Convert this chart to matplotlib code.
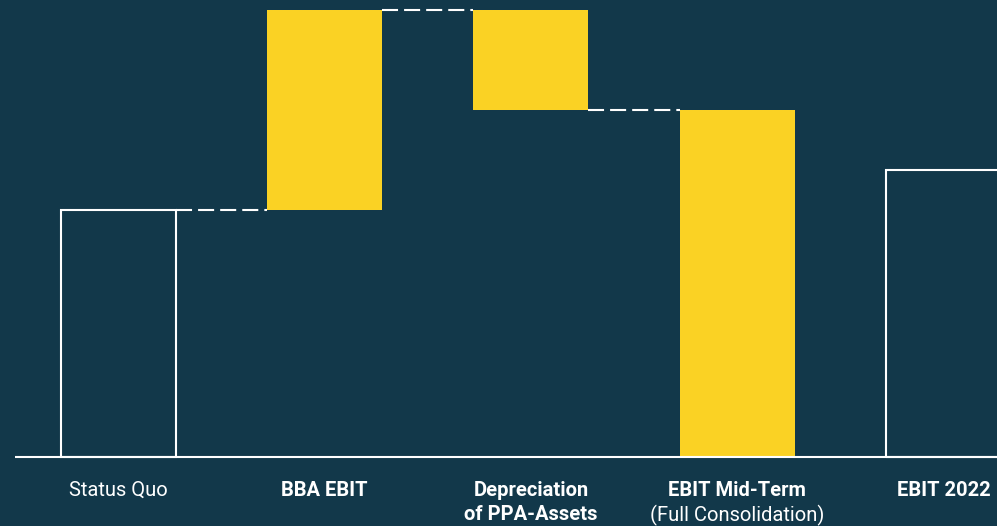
import matplotlib
matplotlib.use("Agg")
import matplotlib.pyplot as plt

categories = ["Status Quo", "BBA EBIT", "Depreciation\nof PPA-Assets", "EBIT Mid-Term", "EBIT 2022"]
sublabels = ["", "", "", "(Full Consolidation)", ""]
bold = [False, True, True, True, True]
values = [247, 200, -100, 347, 287]
kinds = ["total", "delta", "delta", "total_fill", "total"]

BG = "#12384A"
YEL = "#FAD224"
WHITE = "#FFFFFF"

plt.rcParams['font.family'] = ['Roboto', 'DejaVu Sans']

fig = plt.figure(figsize=(9.97, 5.26), dpi=100, facecolor=BG)
ax = fig.add_axes([0, 0, 1, 1])
ax.set_facecolor(BG)
ax.set_xlim(-0.5745, 4.2594)
ax.set_ylim(-69, 457)
ax.axis("off")

w = 0.5576
running = 0
for i, (v, k) in enumerate(zip(values, kinds)):
    if k == "total":
        ax.bar(i, v, width=w, bottom=0, facecolor="none", edgecolor=WHITE, linewidth=1.5, zorder=3)
        running = v
    elif k == "total_fill":
        ax.bar(i, v, width=w, bottom=0, color=YEL, linewidth=0, zorder=3)
        running = v
    else:
        b = running if v >= 0 else running + v
        ax.bar(i, abs(v), width=w, bottom=b, color=YEL, linewidth=0, zorder=3)
        running += v
    if i < 3:
        ax.plot([i + w / 2, i + 1 - w / 2], [running, running], color=WHITE,
                linewidth=1.5, dashes=(7.7, 2.9), zorder=2)

# baseline
ax.plot([-0.502, 4.26], [0, 0], color=WHITE, linewidth=1.5, zorder=4, solid_capstyle="butt")

for i, cat in enumerate(categories):
    lines = cat.split("\n")
    y = -33
    for ln in lines:
        ax.text(i, y, ln, ha="center", va="center", color=WHITE, fontsize=14.5,
                fontweight="bold" if bold[i] else "normal")
        y -= 25
    if sublabels[i]:
        ax.text(i, y, sublabels[i], ha="center", va="center", color=WHITE, fontsize=14.5)

fig.savefig("out.png", dpi=100, facecolor=BG)
